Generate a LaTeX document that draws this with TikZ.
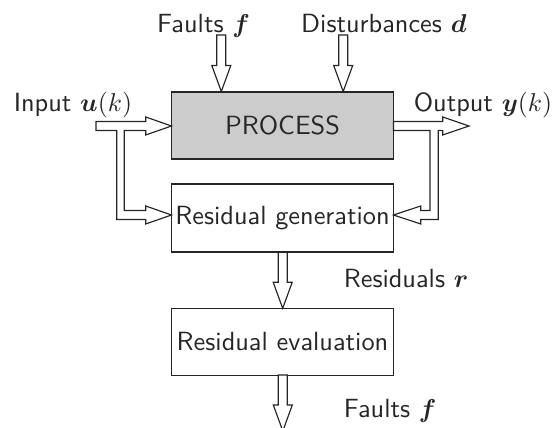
\documentclass[tikz,border=0pt]{standalone}
\usepackage{amsmath}
\usepackage{bm}
\usetikzlibrary{calc}
\tikzset{
  hollow/.style={draw=black!85, fill=white, line width=0.45pt, line join=miter},
  blockbox/.style={draw=black!85, line width=0.5pt, inner sep=0pt,
    minimum width=222*0.3876pt, font=\fontsize{10.2}{12}\sffamily, text=black!85},
  lbl/.style={anchor=base west, inner sep=0pt, font=\fontsize{10.2}{12}\sffamily, text=black!85}
}
\newcommand\vdarrow[3]{%
  \draw[hollow] ({#1-4.5},{#2}) -- ({#1+4.5},{#2}) -- ({#1+4.5},{#3-26})
    -- ({#1+9.5},{#3-26}) -- ({#1},{#3}) -- ({#1-9.5},{#3-26})
    -- ({#1-4.5},{#3-26}) -- cycle;}
\begin{document}
\begin{tikzpicture}[x=0.3876pt,y=-0.3876pt]
\useasboundingbox (0,0) rectangle (552,428);
% blocks
\node[blockbox, fill=black!20, minimum height=67*0.3876pt] (proc) at (282.5,125.5) {PROCESS};
\node[blockbox, minimum height=68*0.3876pt] (resgen) at (282.5,218) {Residual generation};
\node[blockbox, minimum height=67*0.3876pt] (reseval) at (282.5,341.7) {Residual evaluation};
% labels
\node[lbl] (lf) at (156.7,32.3) {Faults $\bm{f}$};
\node[lbl] (ld) at (300.7,32.3) {Disturbances $\bm{d}$};
\node[lbl] (lu) at (13.3,111.7) {Input $\bm{u}(k)$};
\node[lbl] (ly) at (413.3,111.7) {Output $\bm{y}(k)$};
\node[lbl] (lr) at (343.3,287.7) {Residuals $\bm{r}$};
\node[lbl] (lf2) at (343.3,417.3) {Faults $\bm{f}$};
% vertical hollow arrows
\vdarrow{221.3}{35}{91.5}
\vdarrow{343.2}{35}{91.5}
\vdarrow{282.7}{252.3}{308.3}
\vdarrow{282.8}{375}{431}
% input arrow with branch
\draw[hollow] (96,121.5) -- (145.7,121.5) -- (145.7,117) -- (171.5,126)
  -- (145.7,135) -- (145.7,130.5) -- (124.3,130.5) -- (124.3,210.5)
  -- (145.7,210.5) -- (145.7,206) -- (171.5,215) -- (145.7,224)
  -- (145.7,219.5) -- (116.7,219.5) -- (116.7,130.5) -- (96,130.5) -- cycle;
% output arrow with branch
\draw[hollow] (393.5,121.5) -- (442.7,121.5) -- (442.7,117) -- (469,126)
  -- (442.7,135) -- (442.7,130.5) -- (438.3,130.5) -- (438.3,219.5)
  -- (420.7,219.5) -- (420.7,224) -- (393.5,215) -- (420.7,206)
  -- (420.7,210.5) -- (430,210.5) -- (430,130.5) -- (393.5,130.5) -- cycle;
\end{tikzpicture}
\end{document}
